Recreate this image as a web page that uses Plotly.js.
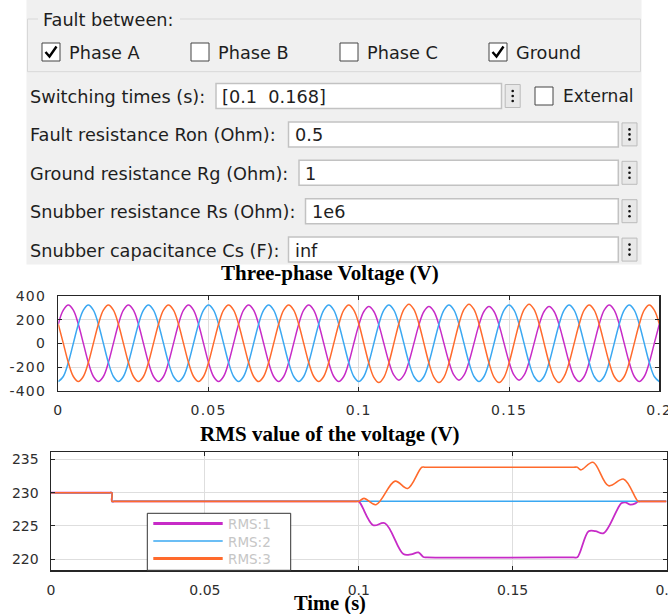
<!DOCTYPE html>
<html>
<head>
<meta charset="utf-8">
<script src="https://cdn.plot.ly/plotly-3.0.1.min.js"></script>
<style>
html,body{margin:0;padding:0;background:#fff;overflow:hidden;}
#chart{width:668px;height:614px;}
.xtick text,.ytick text{letter-spacing:1.2px;}
</style>
</head>
<body>
<div id="chart"></div>
<script>
// ---------------- data ----------------
// Three-phase voltage, sampled every 1/600 s (30 deg at 50 Hz), 0 .. 0.2 s
const tStart = 0;
const tStep = 1 / 600;
const phaseA = [
  162, 280, 323, 280, 162, 0, -162, -280, -323, -280, -162, 0,
  162, 280, 323, 280, 162, 0, -162, -280, -323, -280, -162, 0,
  162, 280, 323, 280, 162, 0, -162, -280, -323, -280, -162, 0,
  162, 280, 323, 280, 162, 0, -162, -280, -323, -280, -162, 0,
  162, 280, 323, 280, 162, 0, -162, -280, -323, -280, -162, 0,
  156, 269, 311, 269, 156, 0, -156, -269, -311, -269, -156, 0,
  156, 269, 311, 269, 156, 0, -156, -269, -311, -269, -156, 0,
  156, 269, 311, 269, 156, 0, -156, -269, -311, -269, -156, 0,
  156, 269, 311, 269, 156, 0, -162, -280, -323, -280, -162, 0,
  162, 280, 323, 280, 162, 0, -162, -280, -323, -280, -162, 0,
  162
];
const phaseB = [
  -323, -280, -162, 0, 162, 280, 323, 280, 162, 0, -162, -280,
  -323, -280, -162, 0, 162, 280, 323, 280, 162, 0, -162, -280,
  -323, -280, -162, 0, 162, 280, 323, 280, 162, 0, -162, -280,
  -323, -280, -162, 0, 162, 280, 323, 280, 162, 0, -162, -280,
  -323, -280, -162, 0, 162, 280, 323, 280, 162, 0, -162, -280,
  -323, -280, -162, 0, 162, 280, 323, 280, 162, 0, -162, -280,
  -323, -280, -162, 0, 162, 280, 323, 280, 162, 0, -162, -280,
  -323, -280, -162, 0, 162, 280, 323, 280, 162, 0, -162, -280,
  -323, -280, -162, 0, 162, 280, 323, 280, 162, 0, -162, -280,
  -323, -280, -162, 0, 162, 280, 323, 280, 162, 0, -162, -280,
  -323
];
const phaseC = [
  162, 0, -162, -280, -323, -280, -162, 0, 162, 280, 323, 280,
  162, 0, -162, -280, -323, -280, -162, 0, 162, 280, 323, 280,
  162, 0, -162, -280, -323, -280, -162, 0, 162, 280, 323, 280,
  162, 0, -162, -280, -323, -280, -162, 0, 162, 280, 323, 280,
  162, 0, -162, -280, -323, -280, -162, 0, 162, 280, 323, 280,
  166, 0, -166, -287, -331, -287, -166, 0, 166, 287, 331, 287,
  166, 0, -166, -287, -331, -287, -166, 0, 166, 287, 331, 287,
  166, 0, -166, -287, -331, -287, -166, 0, 166, 287, 331, 287,
  166, 0, -166, -287, -331, -280, -162, 0, 162, 280, 323, 280,
  162, 0, -162, -280, -323, -280, -162, 0, 162, 280, 323, 280,
  162
];

// RMS values (time s, volts)
const rms1T = [0, 0.019, 0.0198, 0.0198, 0.0206, 0.099, 0.1, 0.1047, 0.1085, 0.1145, 0.117, 0.1194, 0.121, 0.1222, 0.1698, 0.171, 0.1747, 0.1769, 0.1796, 0.1853, 0.1866, 0.1883, 0.1899, 0.1908, 0.1918, 0.2];
const rms1V = [230, 230, 230, 228.7, 228.7, 228.7, 228.7, 225.1, 225.4, 220.75, 220.7, 221.0, 220.3, 220.25, 220.25, 220.25, 224.2, 224.2, 223.9, 228.4, 228.55, 228.2, 228.4, 228.7, 228.7, 228.7];
const rms2T = [0, 0.019, 0.0198, 0.0198, 0.0206, 0.2];
const rms2V = [230, 230, 230, 228.7, 228.7, 228.7];
const rms3T = [0, 0.019, 0.0198, 0.0198, 0.0206, 0.099, 0.1, 0.1017, 0.1056, 0.1118, 0.1159, 0.1205, 0.1217, 0.1698, 0.171, 0.1722, 0.1761, 0.1812, 0.1861, 0.1908, 0.1918, 0.2];
const rms3V = [230, 230, 230, 228.7, 228.7, 228.7, 228.7, 229.15, 228.2, 231.75, 230.65, 233.85, 233.85, 233.85, 233.85, 233.45, 234.6, 231.05, 232.05, 228.7, 228.7, 228.7];

const seriesNames = ['RMS:1', 'RMS:2', 'RMS:3'];
const xTickVals = [0, 0.05, 0.1, 0.15, 0.2];
const xTickText = ['0', '0.05', '0.1', '0.15', '0.2'];
const y1TickVals = [-400, -200, 0, 200, 400];
const y1TickText = ['-400', '-200', '0', '200', '400'];
const y2TickVals = [220, 225, 230, 235];
const y2TickText = ['220', '225', '230', '235'];

// dialog texts
const groupTitle = 'Fault between:';
const checkLabels = ['Phase A', 'Phase B', 'Phase C', 'Ground'];
const checkStates = [true, false, false, true];
const paramLabels = ['Switching times (s):', 'Fault resistance Ron (Ohm):', 'Ground resistance Rg (Ohm):', 'Snubber resistance Rs (Ohm):', 'Snubber capacitance Cs (F):'];
const paramValues = ['[0.1\u00a0\u00a00.168]', '0.5', '1', '1e6', 'inf'];
const externalLabel = 'External';

// ---------------- styling / layout ----------------
const W = 668, H = 614;
const X = x => x / W;
const Y = y => 1 - y / H;
const cA = '#c72bc7', cB = '#3aa8f2', cC = '#ff6a2c';
const uiFont = 'DejaVu Sans';
const uiSize = 17.7;
const uiColor = '#1e1e1e';

const shapes = [];
const annotations = [];
function rect(x0, y0, x1, y1, fill, line, lw, layer) {
  shapes.push({type: 'rect', xref: 'paper', yref: 'paper', x0: X(x0), x1: X(x1), y0: Y(y1), y1: Y(y0),
    fillcolor: fill, line: {color: line || fill, width: lw || 0}, layer: layer || 'below'});
}
function seg(x0, y0, x1, y1, color, lw, layer) {
  shapes.push({type: 'line', xref: 'paper', yref: 'paper', x0: X(x0), y0: Y(y0), x1: X(x1), y1: Y(y1),
    line: {color: color, width: lw}, layer: layer || 'below'});
}
function dot(cx, cy, r, color) {
  shapes.push({type: 'circle', xref: 'paper', yref: 'paper', x0: X(cx - r), x1: X(cx + r), y0: Y(cy + r), y1: Y(cy - r),
    fillcolor: color, line: {width: 0}, layer: 'below'});
}
function path(pts, color, lw) {
  const d = pts.map((p, i) => (i ? 'L' : 'M') + X(p[0]).toFixed(5) + ',' + Y(p[1]).toFixed(5)).join(' ');
  shapes.push({type: 'path', xref: 'paper', yref: 'paper', path: d, line: {color: color, width: lw}, layer: 'below'});
}
function label(str, x, y, opt) {
  opt = opt || {};
  annotations.push({xref: 'paper', yref: 'paper', x: X(x), y: Y(y), text: str, showarrow: false,
    xanchor: opt.anchor || 'left', yanchor: 'middle', borderpad: 0,
    font: {family: opt.family || uiFont, size: opt.size || uiSize, color: opt.color || uiColor}});
}
function checkbox(x, y, checked) {
  rect(x, y, x + 18, y + 18, '#ffffff', '#444444', 1);
  if (checked) path([[x + 3.5, y + 9], [x + 7.5, y + 13.5], [x + 14.5, y + 3.5]], '#000000', 2.4);
}
function menuButton(x, y) {
  rect(x, y, x + 15, y + 23, '#e8e8e8', '#bcbcbc', 1);
  dot(x + 7.5, y + 6.5, 1.3, '#111');
  dot(x + 7.5, y + 11.5, 1.3, '#111');
  dot(x + 7.5, y + 16.5, 1.3, '#111');
}

// dialog background and group box
rect(26.5, 0, 641.5, 264.5, '#f0f0f0');
rect(27.5, 19, 640.5, 71.7, 'rgba(0,0,0,0)', '#d8d8d8', 1);
rect(38, 10, 180, 28, '#f0f0f0');
label(groupTitle, 41.5, 19.5);
const checkX = [42, 191, 340, 489];
checkLabels.forEach((t, i) => {
  checkbox(checkX[i], 43, checkStates[i]);
  label(t, checkX[i] + 26, 52.5);
});

const rowTop = [83.5, 121.9, 160.3, 198.7, 237.1];
const fieldLeft = [216, 288.5, 299, 305.5, 288.5];
const fieldRight = [501.5, 618.3, 618.3, 618.3, 618.3];
paramLabels.forEach((t, i) => {
  const top = rowTop[i];
  label(t, 28.5, top + 13.5);
  rect(fieldLeft[i], top, fieldRight[i], top + 25, '#ffffff', '#c2c2c2', 1.5);
  label(paramValues[i], fieldLeft[i] + 5, top + 13.5);
  menuButton(fieldRight[i] + 3.7, top + 1);
});
checkbox(535, 87, false);
label(externalLabel, 561.5, 96.5, {size: 17});

// chart titles
label('<b>Three-phase Voltage (V)</b>', 330, 272.5, {anchor: 'center', family: 'Liberation Serif', size: 21, color: '#000'});
label('<b>RMS value of the voltage (V)</b>', 330, 433.5, {anchor: 'center', family: 'Liberation Serif', size: 21, color: '#000'});
label('<b>Time (s)</b>', 330, 603, {anchor: 'center', family: 'Liberation Serif', size: 20.5, color: '#000'});

// manual legend for RMS plot
rect(147.3, 513.3, 290.7, 570.3, '#ffffff', '#333333', 1, 'above');
const legendY = [523.5, 541, 558.5];
const legendColors = [cA, cB, cC];
const legendWidths = [3, 1.3, 3];
seriesNames.forEach((n, i) => {
  seg(153.3, legendY[i], 222.7, legendY[i], legendColors[i], legendWidths[i], 'above');
  label(n, 227, legendY[i] + 0.5, {size: 13.5, color: '#c6c6c6'});
});

const tickFont = {family: 'DejaVu Sans', size: 14, color: '#2e2e2e'};
const axBase = {
  showline: true, linecolor: '#262626', linewidth: 1.5, mirror: 'ticks',
  ticks: 'inside', ticklen: 4, tickcolor: '#262626', tickwidth: 1,
  showgrid: true, gridcolor: '#dedede', gridwidth: 1, zeroline: false,
  tickfont: tickFont, fixedrange: true, ticklabeloverflow: 'allow'
};

const traces = [
  {x0: tStart, dx: tStep, y: phaseA, type: 'scatter', mode: 'lines', xaxis: 'x', yaxis: 'y',
    line: {color: cA, width: 1.5, shape: 'spline', smoothing: 1}, hoverinfo: 'skip'},
  {x0: tStart, dx: tStep, y: phaseB, type: 'scatter', mode: 'lines', xaxis: 'x', yaxis: 'y',
    line: {color: cB, width: 1.5, shape: 'spline', smoothing: 1}, hoverinfo: 'skip'},
  {x0: tStart, dx: tStep, y: phaseC, type: 'scatter', mode: 'lines', xaxis: 'x', yaxis: 'y',
    line: {color: cC, width: 1.5, shape: 'spline', smoothing: 1}, hoverinfo: 'skip'},
  {x: rms1T, y: rms1V, name: seriesNames[0], type: 'scatter', mode: 'lines', xaxis: 'x2', yaxis: 'y2',
    line: {color: cA, width: 1.8, shape: 'spline', smoothing: 1}},
  {x: rms2T, y: rms2V, name: seriesNames[1], type: 'scatter', mode: 'lines', xaxis: 'x2', yaxis: 'y2',
    line: {color: cB, width: 1.5, shape: 'spline', smoothing: 1}},
  {x: rms3T, y: rms3V, name: seriesNames[2], type: 'scatter', mode: 'lines', xaxis: 'x2', yaxis: 'y2',
    line: {color: cC, width: 1.6, shape: 'spline', smoothing: 1}}
];

const layout = {
  width: W, height: H, margin: {l: 0, r: 0, t: 0, b: 0, pad: 0},
  paper_bgcolor: '#ffffff', plot_bgcolor: '#ffffff', showlegend: false,
  xaxis: Object.assign({}, axBase, {domain: [X(58.3), X(659.3)], range: [0, 0.2], anchor: 'y',
    tickvals: xTickVals, ticktext: xTickText, ticklabelstandoff: 6}),
  yaxis: Object.assign({}, axBase, {domain: [Y(390.7), Y(296)], range: [-400, 400], anchor: 'x',
    tickvals: y1TickVals, ticktext: y1TickText, ticklabelstandoff: 8}),
  xaxis2: Object.assign({}, axBase, {domain: [X(51), X(666.5)], range: [0, 0.2], anchor: 'y2',
    tickvals: xTickVals, ticktext: xTickText, ticklabelstandoff: 6}),
  yaxis2: Object.assign({}, axBase, {domain: [Y(570.3), Y(452.3)], range: [218.3, 236.1], anchor: 'x2',
    tickvals: y2TickVals, ticktext: y2TickText, ticklabelstandoff: 8}),
  shapes: shapes,
  annotations: annotations
};

Plotly.newPlot('chart', traces, layout, {displayModeBar: false, staticPlot: true});
</script>
</body>
</html>
